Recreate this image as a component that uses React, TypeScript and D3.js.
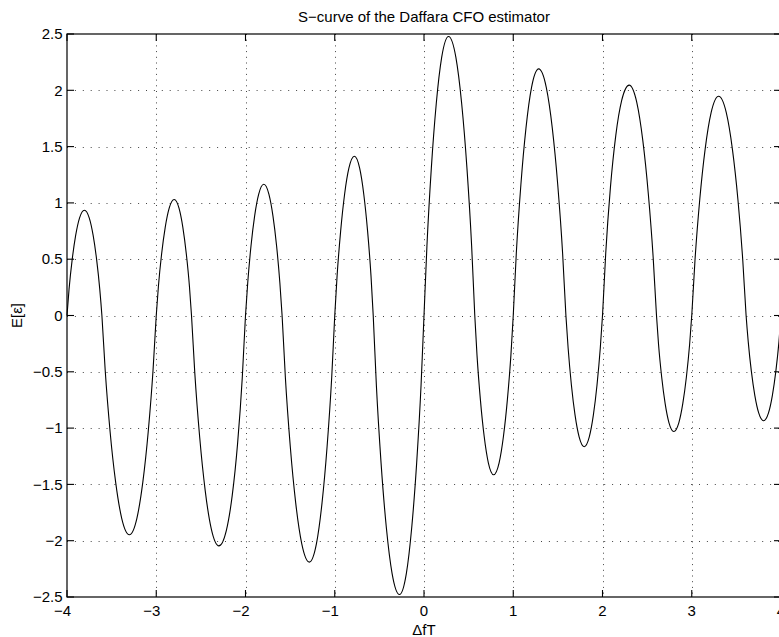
import React from "react";
import * as d3 from "d3";

// ---- data (zero crossings, extrema and points on each lobe) ----
const dfT: number[] = [
  -4.0, -3.977, -3.942, -3.903, -3.86, -3.805, -3.75, -3.707, -3.668, -3.633,
  -3.609, -3.572, -3.517, -3.455, -3.387, -3.301, -3.217, -3.1505, -3.09, -3.036,
  -3.0, -2.976, -2.94, -2.8995, -2.855, -2.799, -2.745, -2.702, -2.663, -2.628,
  -2.605, -2.568, -2.513, -2.4515, -2.384, -2.298, -2.215, -2.149, -2.089, -2.036,
  -2.0, -1.975, -1.9385, -1.8975, -1.852, -1.795, -1.738, -1.6925, -1.6515, -1.615,
  -1.59, -1.5534, -1.4985, -1.4375, -1.37, -1.285, -1.205, -1.1425, -1.0855, -1.034,
  -1.0, -0.9736, -0.934, -0.89, -0.8416, -0.78, -0.721, -0.6745, -0.632, -0.594,
  -0.569, -0.5337, -0.4808, -0.422, -0.3573, -0.275, -0.198, -0.1375, -0.0825, -0.033,
  0.0, 0.033, 0.0825, 0.1375, 0.198, 0.275, 0.3573, 0.422, 0.4808, 0.5337,
  0.569, 0.594, 0.632, 0.6745, 0.721, 0.78, 0.8416, 0.89, 0.934, 0.9736,
  1.0, 1.034, 1.0855, 1.1425, 1.205, 1.285, 1.37, 1.4375, 1.4985, 1.5534,
  1.59, 1.615, 1.6515, 1.6925, 1.738, 1.795, 1.852, 1.8975, 1.9385, 1.975,
  2.0, 2.036, 2.089, 2.149, 2.215, 2.298, 2.384, 2.4515, 2.513, 2.568,
  2.605, 2.628, 2.663, 2.702, 2.745, 2.799, 2.855, 2.8995, 2.94, 2.976,
  3.0, 3.036, 3.09, 3.1505, 3.217, 3.301, 3.387, 3.455, 3.517, 3.572,
  3.609, 3.633, 3.668, 3.707, 3.75, 3.805, 3.86, 3.903, 3.942, 3.977, 4.0,
];
const expectedEps: number[] = [
  0, 0.234, 0.496, 0.711, 0.865, 0.935, 0.865, 0.711, 0.496, 0.234,
  0, -0.487, -1.032, -1.48, -1.801, -1.947, -1.801, -1.48, -1.032, -0.487,
  0, 0.258, 0.546, 0.783, 0.953, 1.03, 0.953, 0.783, 0.546, 0.258,
  0, -0.512, -1.084, -1.555, -1.893, -2.046, -1.91, -1.6, -1.14, -0.55,
  0, 0.291, 0.617, 0.885, 1.078, 1.165, 1.078, 0.885, 0.617, 0.291,
  0, -0.548, -1.161, -1.664, -2.026, -2.19, -2.026, -1.664, -1.161, -0.548,
  0, 0.354, 0.749, 1.075, 1.308, 1.414, 1.308, 1.075, 0.749, 0.354,
  0, -0.62, -1.313, -1.883, -2.292, -2.478, -2.292, -1.883, -1.313, -0.62,
  0, 0.62, 1.313, 1.883, 2.292, 2.478, 2.292, 1.883, 1.313, 0.62,
  0, -0.354, -0.749, -1.075, -1.308, -1.414, -1.308, -1.075, -0.749, -0.354,
  0, 0.548, 1.161, 1.664, 2.026, 2.19, 2.026, 1.664, 1.161, 0.548,
  0, -0.291, -0.617, -0.885, -1.078, -1.165, -1.078, -0.885, -0.617, -0.291,
  0, 0.55, 1.14, 1.6, 1.91, 2.046, 1.893, 1.555, 1.084, 0.512,
  0, -0.258, -0.546, -0.783, -0.953, -1.03, -0.953, -0.783, -0.546, -0.258,
  0, 0.487, 1.032, 1.48, 1.801, 1.947, 1.801, 1.48, 1.032, 0.487,
  0, -0.234, -0.496, -0.711, -0.865, -0.935, -0.865, -0.711, -0.496, -0.234, 0,
];

const xTicks: number[] = [-4, -3, -2, -1, 0, 1, 2, 3, 4];
const yTicks: number[] = [-2.5, -2, -1.5, -1, -0.5, 0, 0.5, 1, 1.5, 2, 2.5];

const titleText = "S\u2212curve of the Daffara CFO estimator";
const xLabelText = "\u0394fT";
const yLabelText = "E[\u03b5]";

const fmt = (v: number) => (v < 0 ? "\u2212" + String(Math.abs(v)) : String(v));

export default function App() {
  const W = 779;
  const H = 637;
  const left = 67;
  const right = 781;
  const top = 34;
  const bottom = 597;
  const fontFamily = "'Liberation Sans', Arial, Helvetica, sans-serif";
  const fs = 15;

  const x = d3.scaleLinear().domain([-4, 4]).range([left, right]);
  const y = d3.scaleLinear().domain([-2.5, 2.5]).range([bottom, top]);

  const pts = dfT.map((d, i) => [d, expectedEps[i]] as [number, number]);
  const line = d3
    .line<[number, number]>()
    .x((d) => x(d[0]))
    .y((d) => y(d[1]))
    .curve(d3.curveMonotoneX);

  const tickLen = 7;
  const minusHalf = fs * 0.584 * 0.5;

  return (
    <svg
      width={W}
      height={H}
      style={{ position: "absolute", left: 0, top: 0, background: "#fff" }}
      fontFamily={fontFamily}
    >
      <rect x={0} y={0} width={W} height={H} fill="#fff" />
      {/* grid */}
      {xTicks
        .filter((t) => t !== -4 && t !== 4)
        .map((t) => (
          <line
            key={"gx" + t}
            x1={Math.round(x(t)) + 0.5}
            x2={Math.round(x(t)) + 0.5}
            y1={top}
            y2={bottom}
            stroke="#444"
            strokeWidth={1}
            strokeDasharray="1,4.7"
          />
        ))}
      {yTicks
        .filter((t) => t !== -2.5 && t !== 2.5)
        .map((t) => (
          <line
            key={"gy" + t}
            x1={left}
            x2={right}
            y1={Math.round(y(t)) + 0.5}
            y2={Math.round(y(t)) + 0.5}
            stroke="#444"
            strokeWidth={1}
            strokeDasharray="1,6.9"
          />
        ))}
      {/* curve */}
      <path d={line(pts) || ""} fill="none" stroke="#000" strokeWidth={1.1} />
      {/* box */}
      <rect
        x={left}
        y={top}
        width={right - left}
        height={bottom - top}
        fill="none"
        stroke="#000"
        strokeWidth={1.2}
      />
      {/* ticks */}
      {xTicks.map((t) => (
        <g key={"tx" + t}>
          <line x1={x(t)} x2={x(t)} y1={bottom} y2={bottom - tickLen} stroke="#000" strokeWidth={1.1} />
          <line x1={x(t)} x2={x(t)} y1={top} y2={top + tickLen} stroke="#000" strokeWidth={1.1} />
          <text
            x={x(t) - (t < 0 ? minusHalf : 0)}
            y={611}
            dy="0.35em"
            textAnchor="middle"
            fontSize={fs}
            fill="#000"
          >
            {fmt(t)}
          </text>
        </g>
      ))}
      {yTicks.map((t) => (
        <g key={"ty" + t}>
          <line x1={left} x2={left + tickLen} y1={y(t)} y2={y(t)} stroke="#000" strokeWidth={1.1} />
          <line x1={right} x2={right - tickLen} y1={y(t)} y2={y(t)} stroke="#000" strokeWidth={1.1} />
          <text x={62.5} y={y(t)} dy="0.35em" textAnchor="end" fontSize={fs} fill="#000">
            {fmt(t)}
          </text>
        </g>
      ))}
      {/* title and labels */}
      <text x={(left + right) / 2} y={21.5} textAnchor="middle" fontSize={fs} fill="#000">
        {titleText}
      </text>
      <text x={(left + right) / 2} y={634.5} textAnchor="middle" fontSize={fs} fill="#000">
        {xLabelText}
      </text>
      <text
        transform={`translate(22,${(top + bottom) / 2}) rotate(-90)`}
        textAnchor="middle"
        fontSize={fs}
        fill="#000"
      >
        {yLabelText}
      </text>
    </svg>
  );
}
